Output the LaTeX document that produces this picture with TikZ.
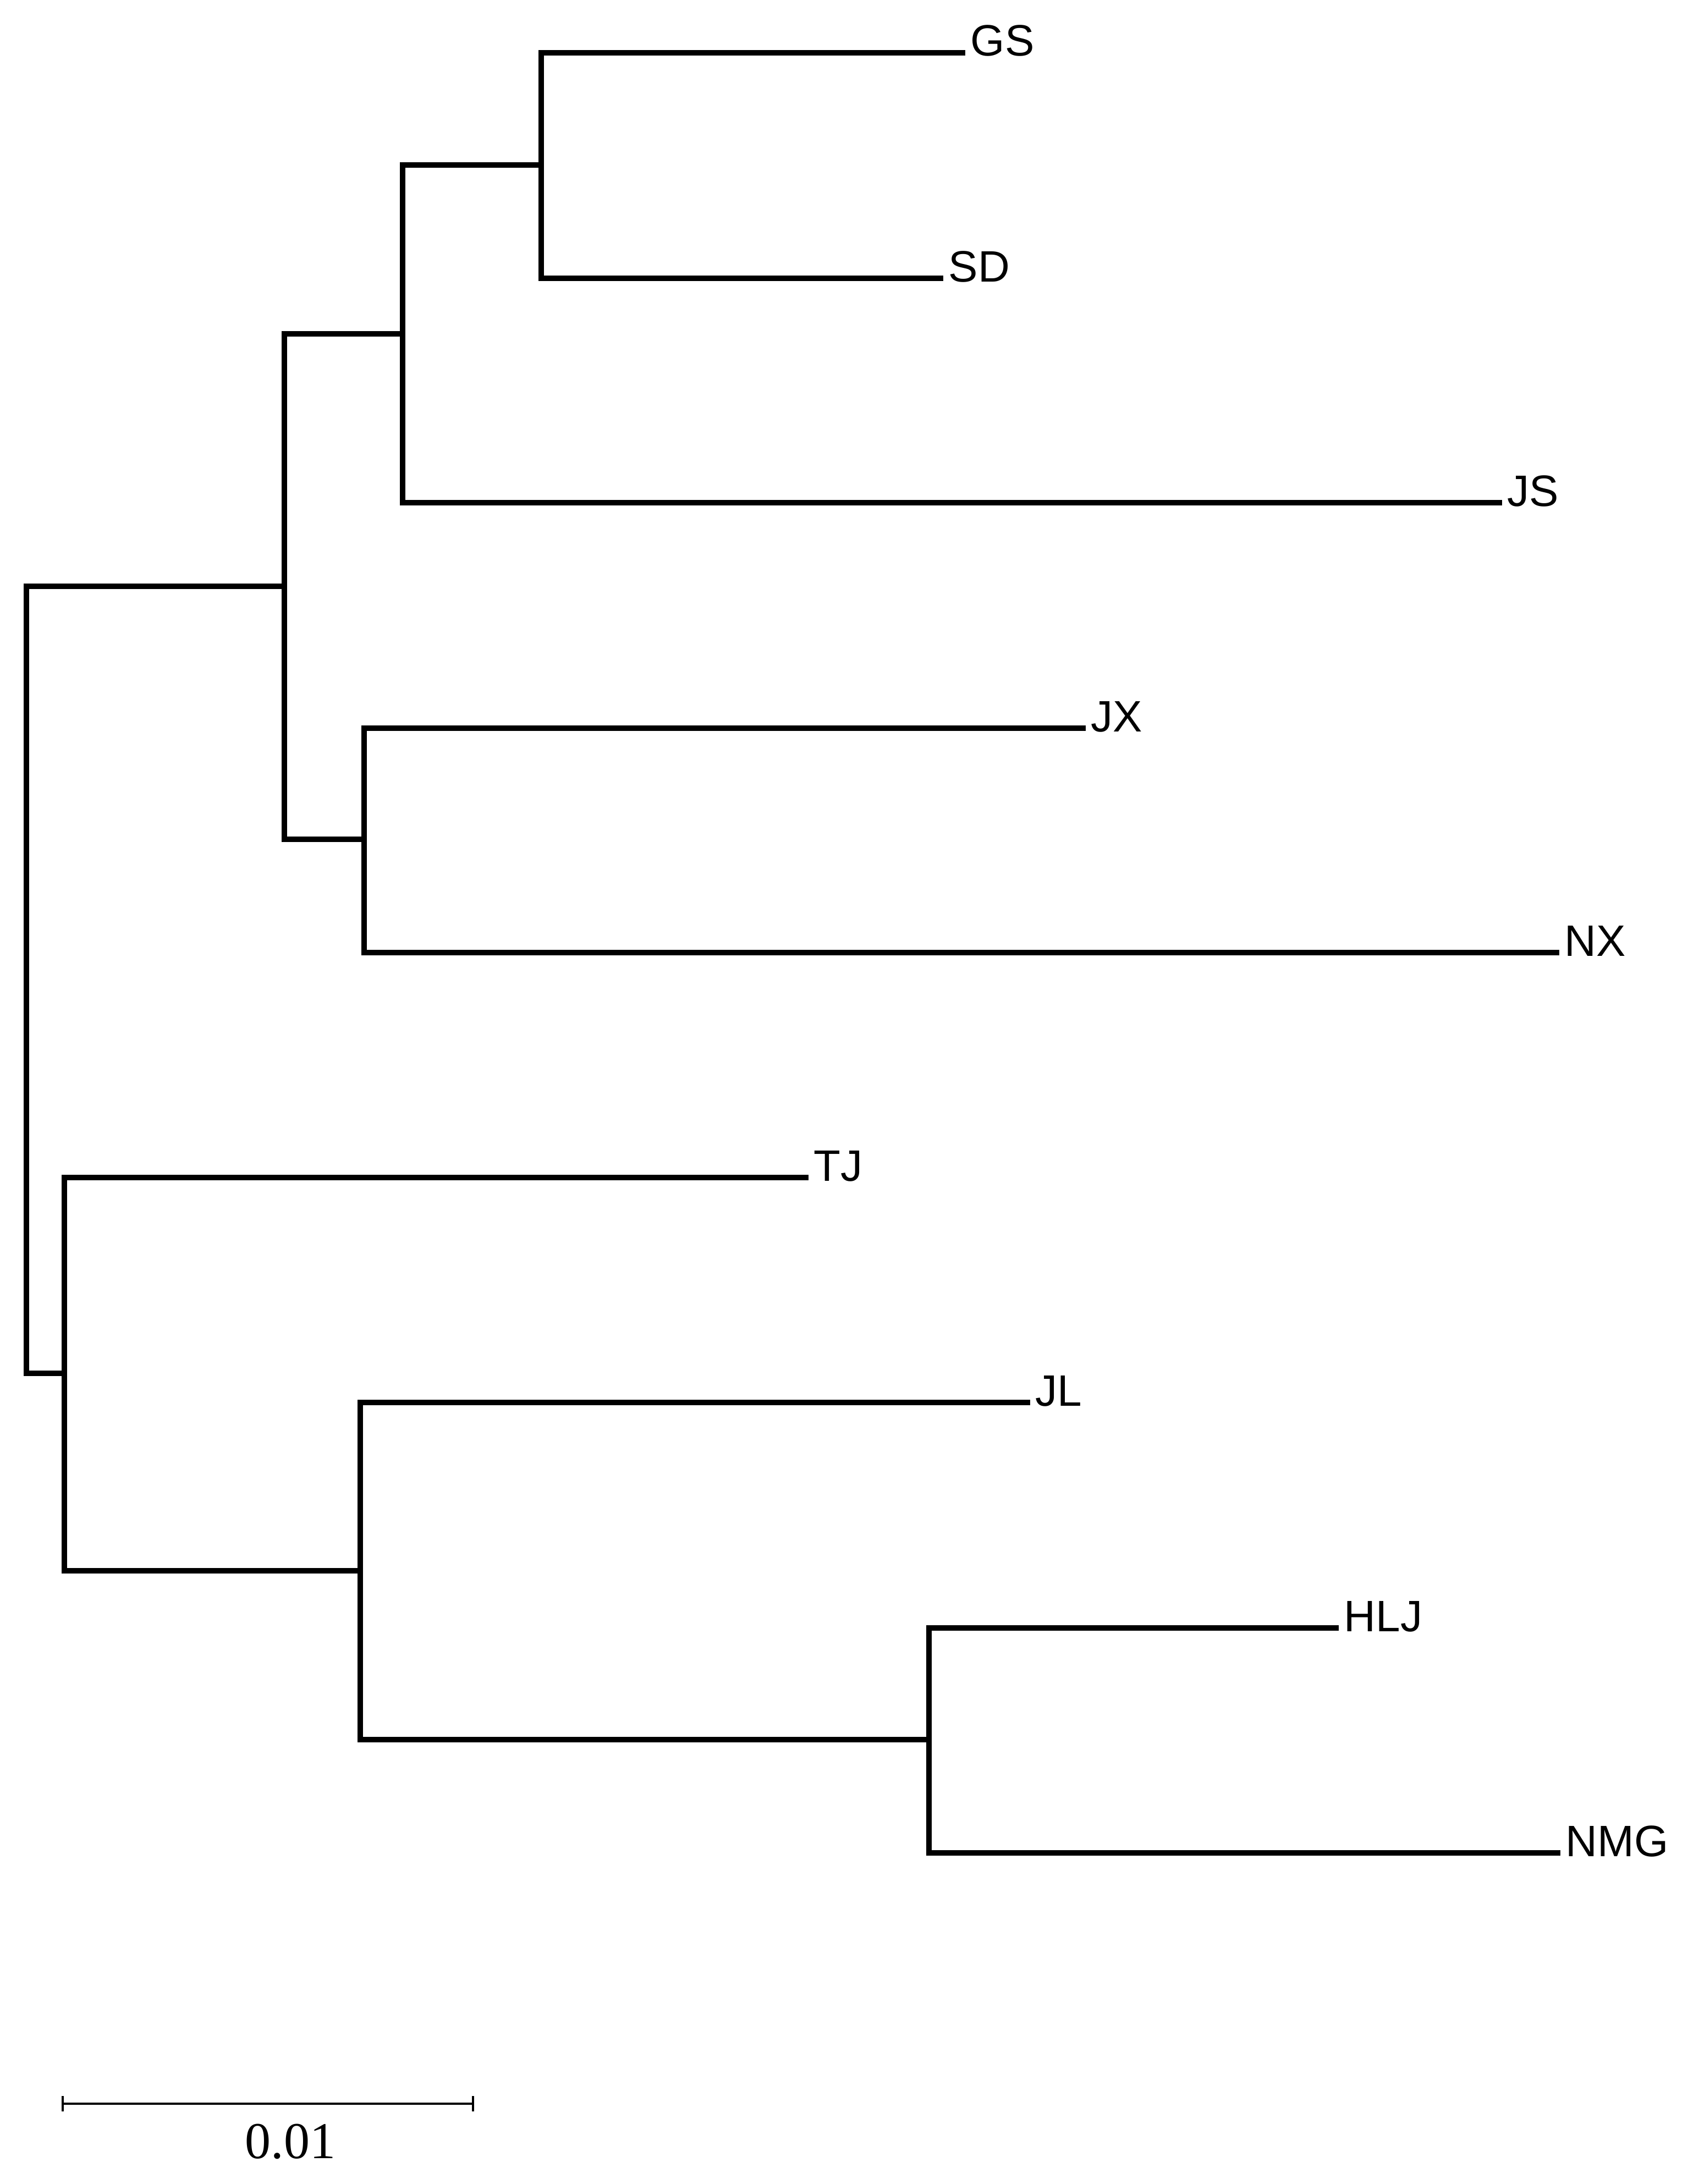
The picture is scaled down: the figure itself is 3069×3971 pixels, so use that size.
\documentclass[tikz,border=0pt]{standalone}
\usepackage{fontspec}
\setmainfont{Liberation Sans}
\newfontfamily\serifnum{Liberation Serif}
\begin{document}
\begin{tikzpicture}[x=0.25pt,y=-0.25pt,
  branch/.style={line width=2.5pt, line join=miter, line cap=butt},
  leaf/.style={anchor=base west, inner sep=0pt, font=\fontsize{20pt}{24pt}\selectfont},
  barline/.style={line width=0.9pt},
  barlabel/.style={anchor=base west, inner sep=0pt, font=\serifnum\fontsize{23.5pt}{28pt}\selectfont}]
\useasboundingbox (0,0) rectangle (3069,3971);
% internal nodes
\coordinate (R) at (48,1781);
\coordinate (A) at (517,1066);
\coordinate (B) at (732,607);
\coordinate (C) at (984,300);
\coordinate (D) at (662,1526);
\coordinate (E) at (117,2497);
\coordinate (F) at (655,2856);
\coordinate (G) at (1689,3163);
% leaf ends
\coordinate (GSe) at (1755,96);
\coordinate (SDe) at (1715,506);
\coordinate (JSe) at (2731,914);
\coordinate (JXe) at (1974,1324);
\coordinate (NXe) at (2835,1732);
\coordinate (TJe) at (1470,2141);
\coordinate (JLe) at (1873,2550);
\coordinate (HLJe) at (2434,2960);
\coordinate (NMGe) at (2837,3369);
% branches
\draw[branch] (GSe) -| (C) |- (SDe);
\draw[branch] (C) -| (B) |- (JSe);
\draw[branch] (JXe) -| (D) |- (NXe);
\draw[branch] (B) -| (A) |- (D);
\draw[branch] (HLJe) -| (G) |- (NMGe);
\draw[branch] (JLe) -| (F) |- (G);
\draw[branch] (TJe) -| (E) |- (F);
\draw[branch] (A) -| (R) |- (E);
% labels
\node[leaf] (GS) at ([shift={(9,6)}]GSe) {GS};
\node[leaf] (SD) at ([shift={(9,6)}]SDe) {SD};
\node[leaf] (JS) at ([shift={(9,6)}]JSe) {JS};
\node[leaf] (JX) at ([shift={(9,6)}]JXe) {JX};
\node[leaf] (NX) at ([shift={(9,6)}]NXe) {NX};
\node[leaf] (TJ) at ([shift={(9,6)}]TJe) {TJ};
\node[leaf] (JL) at ([shift={(9,6)}]JLe) {JL};
\node[leaf] (HLJ) at ([shift={(9,6)}]HLJe) {HLJ};
\node[leaf] (NMG) at ([shift={(9,6)}]NMGe) {NMG};
% scale bar
\coordinate (sb1) at (114,3825);
\coordinate (sb2) at (860,3825);
\draw[barline] (sb1) -- (sb2);
\draw[barline] ([shift={(0,-14)}]sb1) -- ([shift={(0,14)}]sb1);
\draw[barline] ([shift={(0,-14)}]sb2) -- ([shift={(0,14)}]sb2);
\node[barlabel] (scl) at (445,3924) {0.01};
\end{tikzpicture}
\end{document}
